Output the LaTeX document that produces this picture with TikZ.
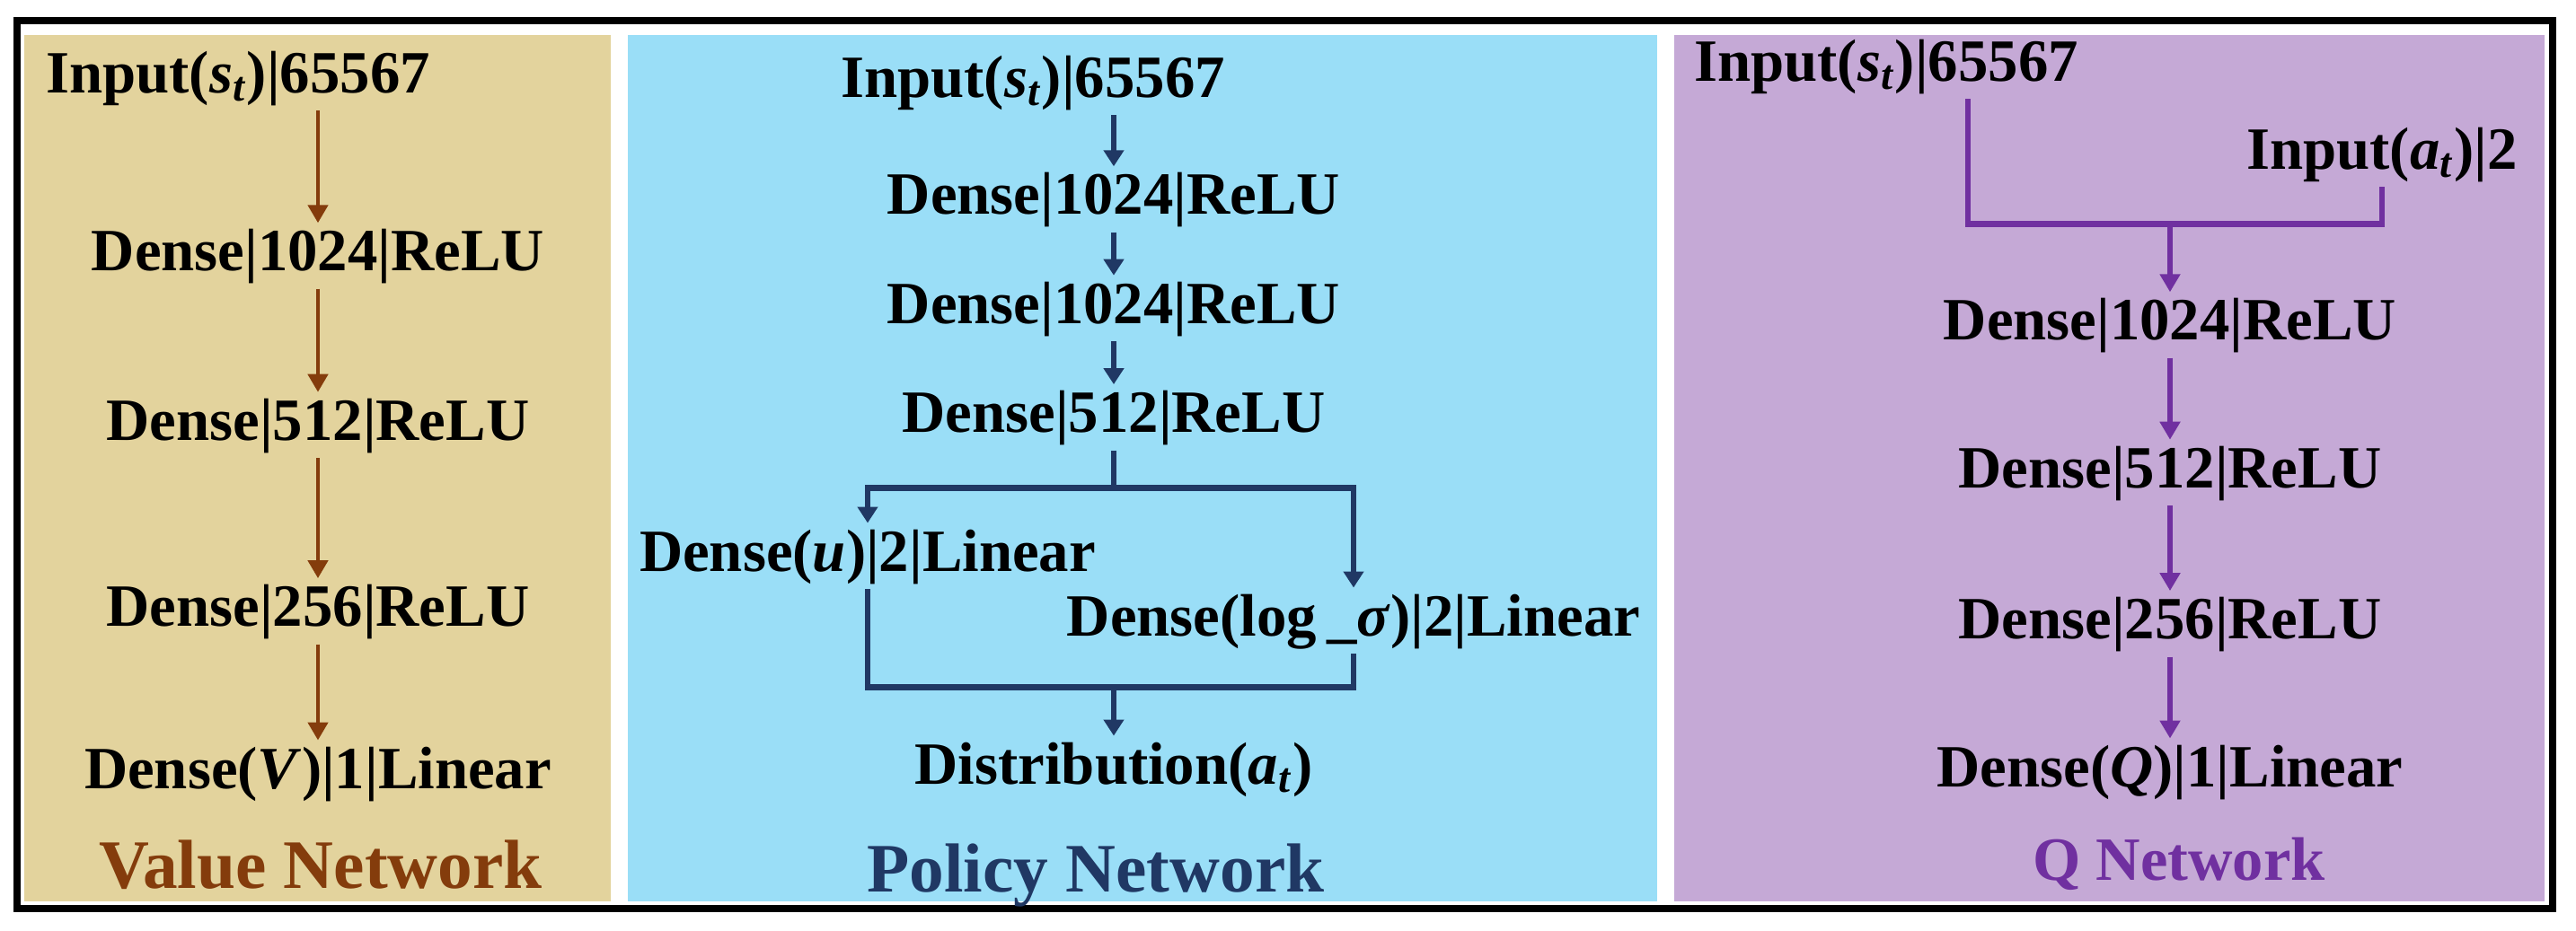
\documentclass[tikz,border=0pt]{standalone}
\usepackage{fontspec}
\setmainfont{Liberation Serif}
\usetikzlibrary{arrows.meta, positioning}

\definecolor{valuebg}{HTML}{E3D39D}
\definecolor{policybg}{HTML}{9ADEF7}
\definecolor{qbg}{HTML}{C5A9D6}
\definecolor{valuebrown}{HTML}{843C0C}
\definecolor{policynavy}{HTML}{203864}
\definecolor{qpurple}{HTML}{7030A0}

\newcommand{\st}{\textit{s}\textsubscript{\textit{t}}}
\newcommand{\at}{\textit{a}\textsubscript{\textit{t}}}

\begin{document}
\begin{tikzpicture}[
    layer/.style={
        font=\fontsize{19}{22}\selectfont\bfseries,
        text height=0.47cm, text depth=0.13cm, inner sep=0.06cm
    },
    title/.style={anchor=base, inner sep=0pt, font=\fontsize{22}{26}\selectfont\bfseries},
    varr/.style={-{Triangle[length=0.2cm,width=0.22cm]}, line width=1.3pt, draw=valuebrown},
    parr/.style={-{Triangle[length=0.18cm,width=0.22cm]}, line width=1.8pt, draw=policynavy},
    pline/.style={line width=1.9pt, draw=policynavy},
    qarr/.style={-{Triangle[length=0.2cm,width=0.22cm]}, line width=1.8pt, draw=qpurple},
    qline/.style={line width=1.9pt, draw=qpurple},
]
\useasboundingbox (0,0) rectangle (28.68,-10.37);

%% Panels and frame
\fill[valuebg]  (0.27,-0.39) rectangle (6.80,-10.04);
\fill[policybg] (6.99,-0.39) rectangle (18.45,-10.04);
\fill[qbg]      (18.64,-0.39) rectangle (28.33,-10.04);
\draw[line width=0.08cm] (0.19,-0.23) rectangle (28.42,-10.12);

%% Value network
\node[layer] (vd1) at (3.54,-2.85) {Dense|1024|ReLU};
\node[layer, above=1.25cm of vd1, xshift=-0.89cm] (vin) {Input(\st)|65567};
\node[layer, below=1.15cm of vd1] (vd2) {Dense|512|ReLU};
\node[layer, below=1.34cm of vd2] (vd3) {Dense|256|ReLU};
\node[layer, below=1.07cm of vd3] (vout) {Dense(\textit{V})|1|Linear};
\node[title, text=valuebrown] (vtitle) at (3.57,-9.90) {Value Network};

\draw[varr] (vin.south -| vd1.north) -- (vd1.north);
\draw[varr] (vd1.south) -- (vd2.north);
\draw[varr] (vd2.south) -- (vd3.north);
\draw[varr] (vd3.south) -- (vout.north);

%% Policy network
\node[layer] (pd1) at (12.40,-2.22) {Dense|1024|ReLU};
\node[layer, above=0.57cm of pd1, xshift=-0.90cm] (pin) {Input(\st)|65567};
\node[layer, below=0.48cm of pd1] (pd2) {Dense|1024|ReLU};
\node[layer, below=0.48cm of pd2] (pd3) {Dense|512|ReLU};
\node[layer, below=0.81cm of pd3, xshift=-2.74cm] (pmu) {Dense(\textit{u})|2|Linear};
\node[layer, below=1.53cm of pd3, xshift=2.67cm] (psig) {Dense(log\,\_\textit{σ})|2|Linear};
\node[layer, below=3.18cm of pd3] (pdist) {Distribution(\at)};
\node[title, text=policynavy] (ptitle) at (12.20,-9.93) {Policy Network};

\coordinate[below=0.42cm of pd3.south] (psplit);
\coordinate[above=0.54cm of pdist.north] (pjoin);

\draw[parr] (pin.south -| pd1.north) -- (pd1.north);
\draw[parr] (pd1.south) -- (pd2.north);
\draw[parr] (pd2.south) -- (pd3.north);
\draw[pline] (pd3.south) -- (psplit);
\draw[parr] (psplit) -| (pmu.north);
\draw[parr] (psplit) -| (psig.north);
\draw[pline] (pmu.south) |- (pjoin);
\draw[pline] (psig.south) |- (pjoin);
\draw[parr] (pjoin) -- (pdist.north);

%% Q network
\node[layer] (qd1) at (24.16,-3.62) {Dense|1024|ReLU};
\node[layer, above=2.15cm of qd1, xshift=-3.16cm] (qins) {Input(\st)|65567};
\node[layer, above=1.17cm of qd1, xshift=2.36cm] (qina) {Input(\at)|2};
\node[layer, below=0.91cm of qd1] (qd2) {Dense|512|ReLU};
\node[layer, below=0.95cm of qd2] (qd3) {Dense|256|ReLU};
\node[layer, below=0.91cm of qd3] (qout) {Dense(\textit{Q})|1|Linear};
\node[title, text=qpurple, font=\fontsize{19.5}{23}\selectfont\bfseries] (qtitle) at (24.26,-9.80) {Q Network};

\coordinate[above=0.76cm of qd1.north] (qjoin);

\draw[qline] ([xshift=0.91cm]qins.south) |- (qjoin);
\draw[qline] (qina.south) |- (qjoin);
\draw[qarr] (qjoin) -- (qd1.north);
\draw[qarr] (qd1.south) -- (qd2.north);
\draw[qarr] (qd2.south) -- (qd3.north);
\draw[qarr] (qd3.south) -- (qout.north);

\end{tikzpicture}
\end{document}
